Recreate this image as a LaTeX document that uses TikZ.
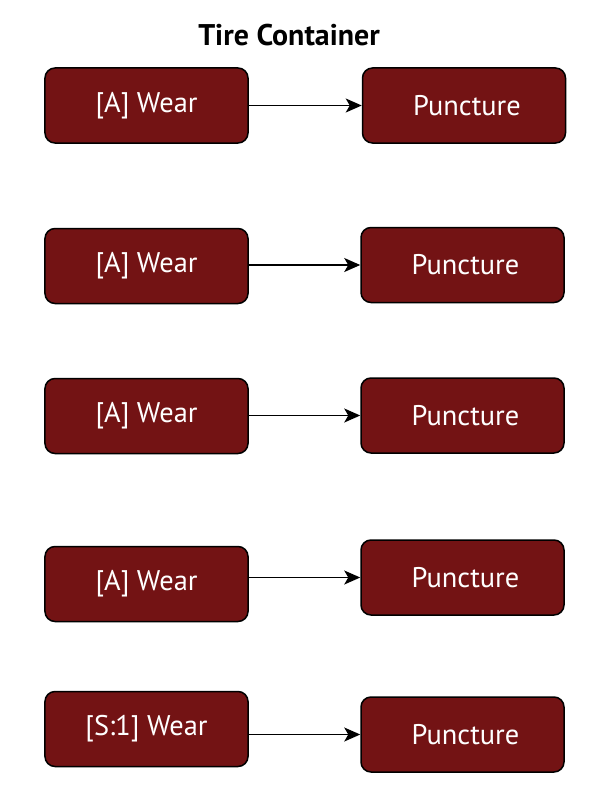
\documentclass[tikz,border=0pt]{standalone}
\usepackage{fontspec}
\setmainfont{PT Sans}
\usetikzlibrary{arrows.meta,positioning}
\definecolor{tirered}{HTML}{731314}

\begin{document}
\begin{tikzpicture}[x=1bp,y=-1bp,
    box/.style={rectangle, draw=black, line width=1.5bp, fill=tirered, rounded corners=10bp,
      minimum width=203bp, minimum height=75bp, inner sep=0pt, text=white,
      font=\fontsize{28.5}{32}\selectfont},
    edge/.style={-{Stealth[length=16bp,width=14bp,inset=4bp]}, line width=1.5bp}]
      \useasboundingbox (0,0) rectangle (612,792);
      % Title
      \node[font=\bfseries\fontsize{30}{34}\selectfont] (title) at (289,35) {Tire Container};

      % Define nodes
      \node[box] (w1) at (146.5,105.5) {[A] Wear};
      \node[box] (p1) at (464,105.5) {\hspace{6bp}Puncture};
      \node[box] (w2) at (146.5,266) {[A] Wear};
      \node[box] (p2) at (462.5,265) {\hspace{6bp}Puncture};
      \node[box] (w3) at (146.5,416) {[A] Wear};
      \node[box] (p3) at (462.5,415.5) {\hspace{6bp}Puncture};
      \node[box] (w4) at (146.5,584) {[A] Wear};
      \node[box] (p4) at (462.5,577.5) {\hspace{6bp}Puncture};
      \node[box] (w5) at (146.5,729) {[S:1] Wear};
      \node[box] (p5) at (462.5,734.5) {\hspace{6bp}Puncture};

      % Draw edges
      \draw[edge] (w1.east |- p1.west) -- (p1.west);
      \draw[edge] (w2.east |- p2.west) -- (p2.west);
      \draw[edge] (w3.east |- p3.west) -- (p3.west);
      \draw[edge] (w4.east |- p4.west) -- (p4.west);
      \draw[edge] (w5.east |- p5.west) -- (p5.west);
    \end{tikzpicture}
\end{document}
